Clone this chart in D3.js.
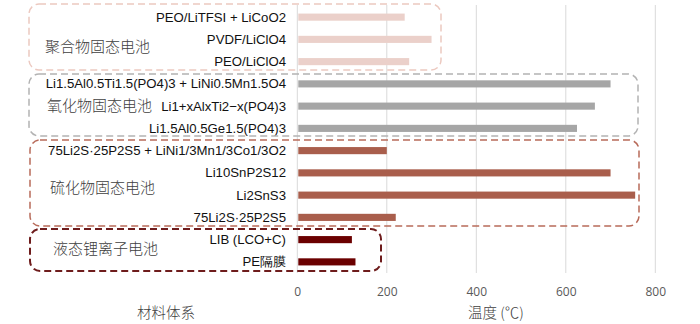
<!DOCTYPE html>
<html><head><meta charset="utf-8">
<script src="https://cdn.jsdelivr.net/npm/d3@7"></script>
<style>body{margin:0;background:#fff}svg{display:block}</style>
</head><body>
<script>
const categories = ["PEO/LiTFSI + LiCoO2","PVDF/LiClO4","PEO/LiClO4",
  "Li1.5Al0.5Ti1.5(PO4)3 + LiNi0.5Mn1.5O4","Li1+xAlxTi2−x(PO4)3","Li1.5Al0.5Ge1.5(PO4)3",
  "75Li2S·25P2S5 + LiNi1/3Mn1/3Co1/3O2","Li10SnP2S12","Li2SnS3","75Li2S·25P2S5",
  "LIB (LCO+C)","PE隔膜"];
const values = [240,300,250,700,665,625,200,700,755,220,122,130];
const groupOf = [0,0,0,1,1,1,2,2,2,2,3,3];
const groupNames = ["聚合物固态电池","氧化物固态电池","硫化物固态电池","液态锂离子电池"];
const groupColors = ["#ebd0ca","#a6a6a6","#a95e4c","#6b0000"];
const boxColors = ["#ecc9c0","#b3b3b3","#b86b5a","#6e1c1c"];
const ticks = [0,200,400,600,800];
const xTitle = "温度 (℃)", yTitle = "材料体系";

const W=700,H=324;
const svg=d3.select("body").append("svg").attr("width",W).attr("height",H);
const x=d3.scaleLinear().domain([0,800]).range([297.3,655.3]);
const y=d3.scaleBand().domain(categories).range([6,273]).paddingInner(0.68).paddingOuter(0.34);

svg.append("g").selectAll("line").data(ticks).join("line")
  .attr("x1",d=>x(d)).attr("x2",d=>x(d)).attr("y1",5).attr("y2",273)
  .attr("stroke","#d9d9d9").attr("stroke-width",1);

svg.append("g").selectAll("rect").data(categories).join("rect")
  .attr("x",x(0)+1).attr("y",d=>y(d))
  .attr("width",(d,i)=>x(values[i])-x(0)-1).attr("height",y.bandwidth())
  .attr("fill",(d,i)=>groupColors[groupOf[i]]);

svg.append("g").selectAll("text").data(categories).join("text")
  .attr("x",286).attr("y",d=>y(d)+y.bandwidth()/2).attr("dy","0.35em")
  .attr("text-anchor","end").attr("font-family","'Liberation Sans',Arial,sans-serif")
  .attr("font-size",13.2).attr("fill","#111").text(d=>d);

const ax=d3.axisBottom(x).tickValues(ticks).tickSize(0).tickPadding(0);
const g=svg.append("g").attr("transform","translate(0,287)").call(ax);
g.select(".domain").remove();
g.selectAll("text").attr("font-family","'Open Sans',sans-serif").attr("font-size",12)
  .attr("fill","#595959").attr("dy","0.71em");

svg.append("text").attr("x",496).attr("y",318).attr("text-anchor","middle")
  .attr("font-family","'Noto Sans CJK SC',sans-serif").attr("font-size",14.5).attr("font-weight",300).attr("fill","#404040").text(xTitle);
svg.append("text").attr("x",166).attr("y",318).attr("text-anchor","middle")
  .attr("font-family","'Noto Sans CJK SC',sans-serif").attr("font-size",14.5).attr("font-weight",300).attr("fill","#404040").text(yTitle);

const boxes=[
  {x0:29,x1:441,y0:4,y1:70,w:1.5},
  {x0:29,x1:638,y0:74,y1:136,w:1.5},
  {x0:30,x1:639,y0:140,y1:226,w:1.5},
  {x0:30,x1:381,y0:229,y1:271,w:2}
];
const labelPos=[[45,47],[47,106],[50,188],[53,249]];
boxes.forEach((b,i)=>{
  svg.append("rect").attr("x",b.x0).attr("y",b.y0).attr("width",b.x1-b.x0).attr("height",b.y1-b.y0)
    .attr("rx",10).attr("ry",10).attr("fill","none").attr("stroke",boxColors[i])
    .attr("stroke-width",b.w).attr("stroke-dasharray","7,4");
  svg.append("text").attr("x",labelPos[i][0]).attr("y",labelPos[i][1]).attr("dy","0.35em")
    .attr("font-family","'Noto Sans CJK SC',sans-serif").attr("font-size",15).attr("font-weight",300).attr("fill","#404040")
    .text(groupNames[i]);
});
</script>
</body></html>
